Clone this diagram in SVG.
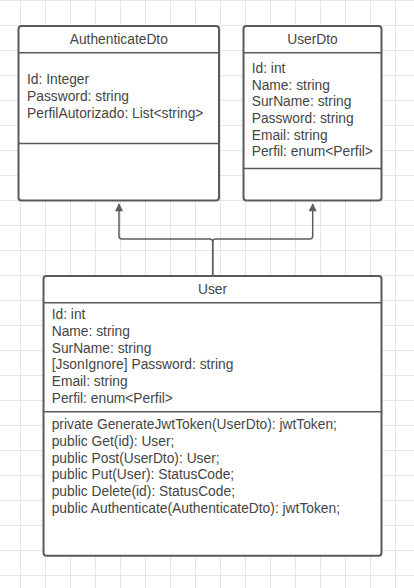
<svg xmlns="http://www.w3.org/2000/svg" width="414" height="588" viewBox="0 0 414 588">
<style>
.grid{stroke:#e6e6e6;stroke-width:1;fill:none}
.box{fill:#ffffff;stroke:#5a5a5a;stroke-width:2}
.sep{stroke:#5a5a5a;stroke-width:1.6;fill:none}
.t{font-family:"Liberation Sans",Arial,sans-serif;font-size:13.8px;fill:#454545}
.title{text-anchor:middle}
.conn{fill:none;stroke:#5e5e5e;stroke-width:1.5}
</style>
<defs>
<marker id="arr" viewBox="0 0 10 10" refX="9" refY="5" markerWidth="10" markerHeight="8" markerUnits="userSpaceOnUse" orient="auto">
<path d="M0,0 L10,5 L0,10 Z" fill="#5e5e5e"/>
</marker>
</defs>
<rect width="414" height="588" fill="#ffffff"/>
<path class="grid" d="M20.5,0V588M45.5,0V588M70.5,0V588M95.5,0V588M120.5,0V588M145.5,0V588M170.5,0V588M195.5,0V588M220.5,0V588M245.5,0V588M270.5,0V588M295.5,0V588M320.5,0V588M345.5,0V588M370.5,0V588M395.5,0V588M0,0.5H414M0,25.5H414M0,50.5H414M0,75.5H414M0,100.5H414M0,125.5H414M0,150.5H414M0,175.5H414M0,200.5H414M0,225.5H414M0,250.5H414M0,275.5H414M0,300.5H414M0,325.5H414M0,350.5H414M0,375.5H414M0,400.5H414M0,425.5H414M0,450.5H414M0,475.5H414M0,500.5H414M0,525.5H414M0,550.5H414M0,575.5H414"/>
<g id="connectors">
<path class="conn" d="M212.7,276 V242 Q212.7,239 209.7,239 H122 Q119,239 119,236 V204" marker-end="url(#arr)"/>
<path class="conn" d="M212.7,276 V242 Q212.7,239 215.7,239 H309.7 Q312.7,239 312.7,236 V204" marker-end="url(#arr)"/>
</g>
<g id="AuthenticateDto">
<rect class="box" x="18.5" y="26" width="200.5" height="174.5" rx="3"/>
<path class="sep" d="M18.5,52.7H219M18.5,143.5H219"/>
<text class="t title" x="118.8" y="43.5">AuthenticateDto</text>
<text class="t" x="27" y="84.3">Id: Integer</text>
<text class="t" x="27" y="101">Password: string</text>
<text class="t" x="27" y="117.7">PerfilAutorizado: List&lt;string&gt;</text>
</g>
<g id="UserDto">
<rect class="box" x="243.5" y="26" width="138" height="174.5" rx="3"/>
<path class="sep" d="M243.5,52.7H381.5M243.5,168.5H381.5"/>
<text class="t title" x="312.5" y="43.5">UserDto</text>
<text class="t" x="251.7" y="73">Id: int</text>
<text class="t" x="251.7" y="89.7">Name: string</text>
<text class="t" x="251.7" y="106.3">SurName: string</text>
<text class="t" x="251.7" y="123">Password: string</text>
<text class="t" x="251.7" y="139.7">Email: string</text>
<text class="t" x="251.7" y="156.3">Perfil: enum&lt;Perfil&gt;</text>
</g>
<g id="User">
<rect class="box" x="43.5" y="276" width="338" height="279.7" rx="3"/>
<path class="sep" d="M43.5,302.7H381.5M43.5,411.7H381.5"/>
<text class="t title" x="212.5" y="293.5">User</text>
<text class="t" x="51.7" y="319.3">Id: int</text>
<text class="t" x="51.7" y="336">Name: string</text>
<text class="t" x="51.7" y="352.7">SurName: string</text>
<text class="t" x="51.7" y="369.3">[JsonIgnore] Password: string</text>
<text class="t" x="51.7" y="386">Email: string</text>
<text class="t" x="51.7" y="402.7">Perfil: enum&lt;Perfil&gt;</text>
<text class="t" x="51.7" y="429.3">private GenerateJwtToken(UserDto): jwtToken;</text>
<text class="t" x="51.7" y="446">public Get(id): User;</text>
<text class="t" x="51.7" y="462.7">public Post(UserDto): User;</text>
<text class="t" x="51.7" y="479.3">public Put(User): StatusCode;</text>
<text class="t" x="51.7" y="496">public Delete(id): StatusCode;</text>
<text class="t" x="51.7" y="512.7">public Authenticate(AuthenticateDto): jwtToken;</text>
</g>
</svg>
